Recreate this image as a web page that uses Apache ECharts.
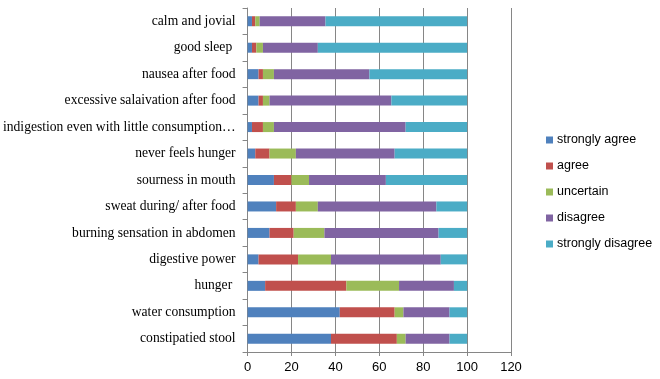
<!DOCTYPE html>
<html>
<head>
<meta charset="utf-8">
<script src="https://cdn.jsdelivr.net/npm/echarts@6/dist/echarts.min.js"></script>
<style>
html,body{margin:0;padding:0;background:#fff;}
#c{width:660px;height:379px;}
</style>
</head>
<body>
<div id="c"></div>
<script>
// categories, top to bottom as shown
const categories = [
  "calm and jovial",
  "good sleep ",
  "nausea after food",
  "excessive salaivation after food",
  "indigestion even with little consumption\u2026",
  "never feels hunger",
  "sourness in mouth",
  "sweat during/ after food",
  "burning sensation in abdomen",
  "digestive power",
  "hunger ",
  "water consumption",
  "constipatied stool"
];
const seriesNames = ["strongly agree", "agree", "uncertain", "disagree", "strongly disagree"];
const stronglyAgree    = [2, 2, 5, 5, 2, 3.5, 12, 13, 10, 5, 8, 42, 38];
const agree            = [1.5, 2, 2, 2, 5, 6.5, 8, 9, 11, 18, 37, 25, 30];
const uncertain        = [2, 3, 5, 3, 5, 12, 8, 10, 14, 15, 24, 4, 4];
const disagree         = [30, 25, 43.5, 55.5, 60, 45, 35, 54, 52, 50, 25, 21, 20];
const stronglyDisagree = [64.5, 68, 44.5, 34.5, 28, 33, 37, 14, 13, 12, 6, 8, 8];
const xTicks = [0, 20, 40, 60, 80, 100, 120];

const colors = ["#4F81BD", "#C0504D", "#9BBB59", "#8064A2", "#4BACC6"];
const values = [stronglyAgree, agree, uncertain, disagree, stronglyDisagree];

const chart = echarts.init(document.getElementById('c'));
chart.setOption({
  animation: false,
  grid: {left: 247, right: 149, top: 8, bottom: 27, containLabel: false},
  legend: {
    orient: 'vertical',
    left: 541,
    top: 128,
    itemWidth: 7,
    itemHeight: 7,
    itemGap: 12,
    icon: 'rect',
    data: seriesNames,
    textStyle: {fontFamily: 'Liberation Sans', fontSize: 12.5, color: '#000', lineHeight: 14, padding: [0,0,0,-1]}
  },
  xAxis: {
    type: 'value',
    min: xTicks[0],
    max: xTicks[xTicks.length - 1],
    interval: 20,
    axisLine: {show: true, lineStyle: {color: '#868686'}},
    axisTick: {show: true, length: 4, lineStyle: {color: '#868686'}},
    splitLine: {show: true, lineStyle: {color: '#868686'}},
    axisLabel: {fontFamily: 'Liberation Sans', fontSize: 13, color: '#000', margin: 9}
  },
  yAxis: {
    type: 'category',
    inverse: true,
    data: categories,
    axisLine: {show: true, lineStyle: {color: '#868686'}},
    axisTick: {show: true, length: 5, lineStyle: {color: '#868686'}},
    axisLabel: {fontFamily: 'Liberation Serif', fontSize: 13.6, color: '#000', margin: 12}
  },
  series: seriesNames.map((n, i) => ({
    name: n,
    type: 'bar',
    stack: 'total',
    barWidth: 10,
    itemStyle: {color: colors[i]},
    data: values[i]
  }))
});
</script>
</body>
</html>
